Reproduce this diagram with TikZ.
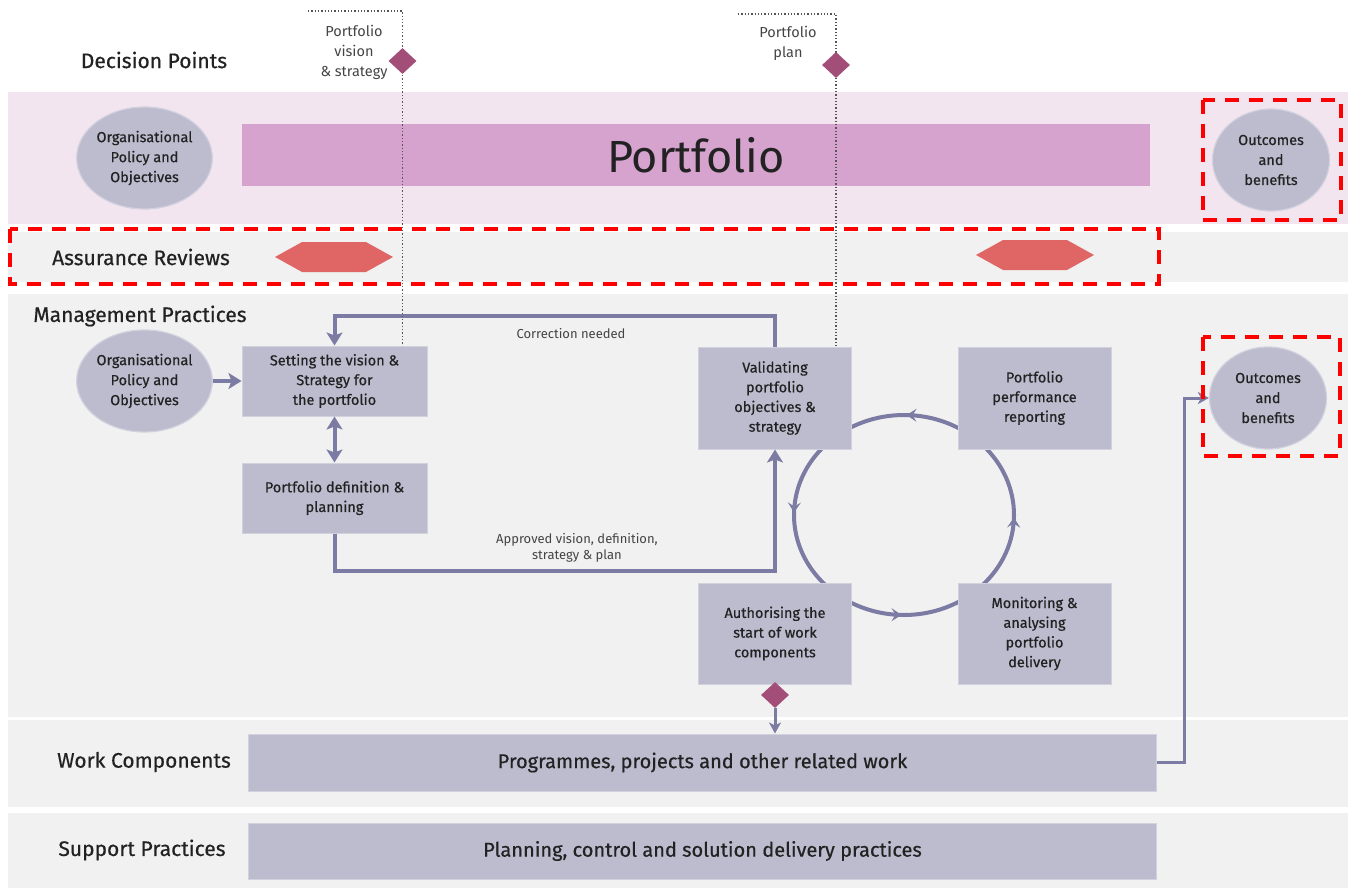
\documentclass[tikz,border=0pt]{standalone}
\usepackage{fontspec}
\setmainfont{Fira Sans}
\newfontfamily\medfont{Fira Sans}[FakeBold=0.5]
\usetikzlibrary{arrows.meta,shapes.geometric,shapes.symbols,decorations.markings}

\definecolor{bandgrey}{HTML}{F1F1F1}
\definecolor{bandpink}{HTML}{F3E5F0}
\definecolor{boxgrey}{HTML}{BDBCCF}
\definecolor{boxedge}{HTML}{D2D1DE}
\definecolor{flowline}{HTML}{7B7BA3}
\definecolor{portpink}{HTML}{D6A2CE}
\definecolor{decpink}{HTML}{A34D79}
\definecolor{hexred}{HTML}{E06666}
\definecolor{txtdark}{HTML}{222222}
\definecolor{notegrey}{HTML}{444444}
\definecolor{dotgrey}{HTML}{555555}

\begin{document}
\begin{tikzpicture}[%
x=1pt, y=-1pt,
lanetext/.style={font=\medfont\fontsize{21}{24}\selectfont, text=txtdark},
stepnode/.style={fill=boxgrey, draw=boxedge, line width=1pt, align=center, font=\medfont\fontsize{14.5}{19.7}\selectfont, text=txtdark, inner sep=2pt},
goalnode/.style={ellipse, fill=boxgrey, draw=boxedge, line width=1.2pt, align=center, font=\medfont\fontsize{14.5}{20}\selectfont, text=txtdark, minimum width=117, minimum height=102, inner sep=0pt},
widebar/.style={fill=boxgrey, draw=boxedge, line width=1pt, minimum width=908, font=\medfont\fontsize{20}{22}\selectfont, text=txtdark},
decision/.style={diamond, fill=decpink, minimum width=28, minimum height=26, inner sep=0pt},
review/.style={signal, signal to=west and east, signal pointer angle=58, fill=hexred, minimum width=118, minimum height=30, inner sep=0pt},
note/.style={font=\fontsize{14.5}{20}\selectfont, text=notegrey, align=center},
smallnote/.style={font=\fontsize{13}{16.5}\selectfont, text=notegrey, align=center},
flow/.style={draw=flowline, line width=4pt, -{Stealth[length=13pt, width=16pt, inset=3pt]}},
thinflow/.style={draw=flowline, line width=3pt, -{Stealth[length=11pt, width=12pt, inset=3pt]}},
guide/.style={draw=dotgrey, line width=1.3pt, dotted},
highlight/.style={draw=red, line width=4pt, dash pattern=on 14pt off 10pt},
]
\useasboundingbox (0,0) rectangle (1354,889);
%% bands;
\fill[bandpink] (8,92) rectangle (1348,224);
\fill[bandgrey] (8,232) rectangle (1348,282);
\fill[bandgrey] (8,294) rectangle (1348,717);
\fill[bandgrey] (8,720) rectangle (1348,807);
\fill[bandgrey] (8,813) rectangle (1348,888);
%% lane labels;
\node[lanetext] (lanedec) at (154,60) {Decision Points};
\node[lanetext] (laneass) at (141,257) {Assurance Reviews};
\node[lanetext] (lanemgt) at (140,316) {Management Practices};
\node[lanetext] (lanework) at (144,762) {Work Components};
\node[lanetext] (lanesup) at (142,850) {Support Practices};
%% portfolio lane;
\node[goalnode] (orgtop) at (144.5,158) {Organisational\\Policy and\\Objectives};
\node[fill=portpink, minimum width=908, minimum height=62, font=\fontsize{45}{50}\selectfont, text=txtdark] (portfolio) at (696,155) {\raisebox{-3pt}{Portfolio}};
\node[goalnode] (outtop) at (1271,160) {Outcomes\\and\\benefits};
%% assurance reviews;
\node[review] (reviewA) at (334,257) {};
\node[review] (reviewB) at (1035,255) {};
%% cycle;
\coordinate (cyc) at (904,515);
\draw[flowline, line width=4pt, postaction={decorate}, decoration={markings,
  mark=at position 0.125 with {\arrow{Stealth[length=10pt, width=13pt, inset=4pt]}},
  mark=at position 0.375 with {\arrow{Stealth[length=10pt, width=13pt, inset=4pt]}},
  mark=at position 0.625 with {\arrow{Stealth[length=10pt, width=13pt, inset=4pt]}},
  mark=at position 0.875 with {\arrow{Stealth[length=10pt, width=13pt, inset=4pt]}}}]
  (cyc) ++(-45:110 and 100) arc[start angle=-45, end angle=-405, x radius=110, y radius=100];
%% management practices;
\node[goalnode] (orgmp) at (144.5,381) {Organisational\\Policy and\\Objectives};
\node[stepnode, minimum width=185, minimum height=70] (setting) at (334.5,381) {Setting the vision \&\\Strategy for\\the portfolio};
\node[stepnode, minimum width=185, minimum height=70] (definition) at (334.5,498) {Portfolio definition \&\\planning};
\node[stepnode, minimum width=153, minimum height=102] (validating) at (775,398) {Validating\\portfolio\\objectives \&\\strategy};
\node[stepnode, minimum width=153, minimum height=102] (perf) at (1034.5,398) {Portfolio\\performance\\reporting};
\node[stepnode, minimum width=153, minimum height=101] (authorising) at (775,633.5) {Authorising the\\start of work\\components};
\node[stepnode, minimum width=153, minimum height=101] (monitoring) at (1034.5,633.5) {Monitoring \&\\analysing\\portfolio\\delivery};
\node[goalnode] (outmp) at (1268,398) {Outcomes\\and\\benefits};
%% work and support;
\node[widebar, minimum height=57] (work) at (702.5,762.5) {Programmes, projects and other related work};
\node[widebar, minimum height=56] (support) at (702.5,851) {Planning, control and solution delivery practices};
%% connectors;
\draw[flow] (orgmp) -- (setting);
\draw[flow, {Stealth[length=13pt, width=16pt, inset=3pt]}-{Stealth[length=13pt, width=16pt, inset=3pt]}] (setting) -- (definition);
\draw[flow] (validating.north) -- ++(0,-31) -| (setting.north);
\draw[flow] (definition.south) -- ++(0,37) -| (validating.south);
\node[smallnote] (lblcorr) at (571,334) {Correction needed};
\node[smallnote] (lblappr) at (577,548) {Approved vision, definition,\\strategy \& plan};
\draw[thinflow] (work.east) -- ++(27,0) |- (outmp.west);
%% highlights;
\draw[highlight] (10,229) rectangle (1159,284);
\draw[highlight] (1203,100) rectangle (1341,220);
\draw[highlight] (1203,337) rectangle (1340,456);
%% decision points;
\coordinate (guideA) at (308,11);
\coordinate (guideB) at (738,14);
\coordinate (dpvpos) at (402.5,61);
\coordinate (dpppos) at (836,65);
\draw[guide] (guideA) -| (setting.north -| dpvpos);
\draw[guide] (guideB) -| (validating.north -| dpppos);
\node[decision] (dpv) at (dpvpos) {};
\node[decision] (dpp) at (dpppos) {};
\node[note] (lblvision) at (354,52) {Portfolio\\vision\\\& strategy};
\node[note] (lblplan) at (788,43) {Portfolio\\plan};
\node[decision] (dauth) at (775,695) {};
\draw[thinflow] (dauth.south) -- (dauth.south |- work.north);
\end{tikzpicture}
\end{document}
